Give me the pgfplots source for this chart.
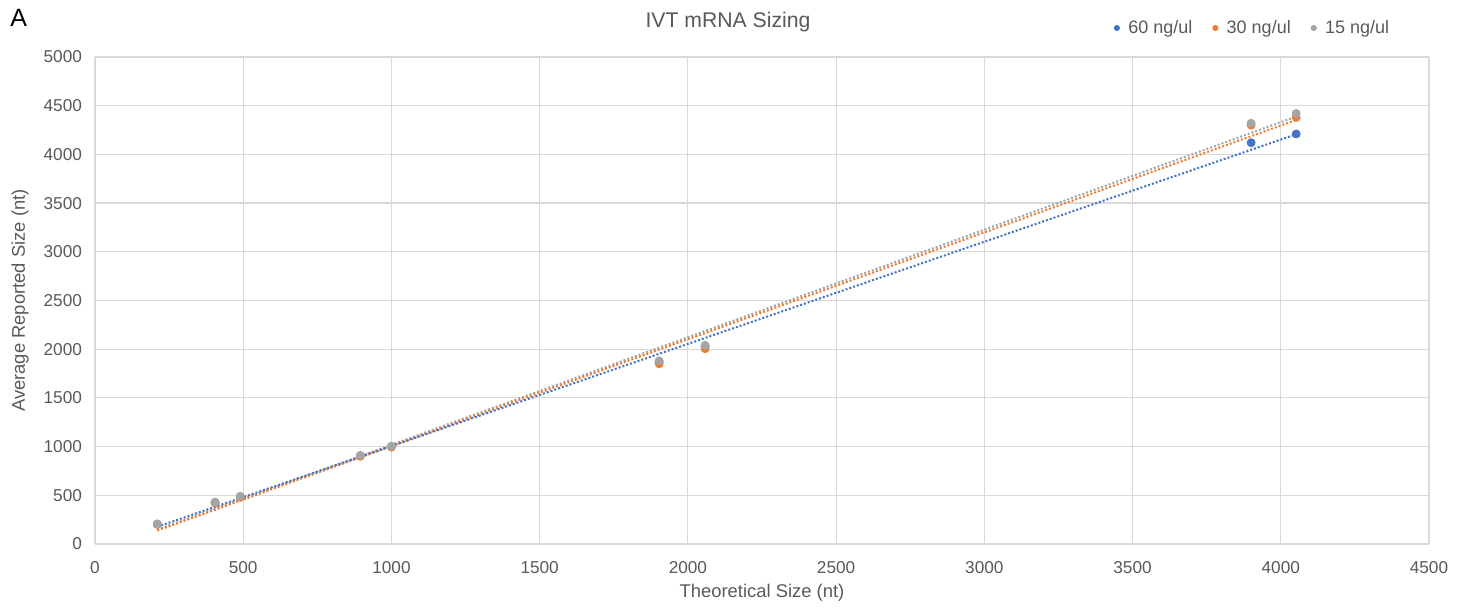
\documentclass[border=0pt]{standalone}
\usepackage{fontspec}
\setmainfont{Liberation Sans}
\usepackage{pgfplots}
\usepackage{pgfplotstable}
\pgfplotsset{compat=1.18}
\definecolor{sblue}{HTML}{4472C4}
\definecolor{sorange}{HTML}{ED7D31}
\definecolor{sgray}{HTML}{A5A5A5}
\definecolor{txt}{HTML}{595959}
\definecolor{gridc}{HTML}{D9D9D9}
\pgfplotstableread{
x s60 s30 s15
210 205 200 205
405 425 420 430
490 485 480 490
895 905 900 910
1000 1000 995 1005
1903 1870 1850 1880
2058 2030 2005 2040
3900 4120 4300 4320
4052 4210 4380 4420
}\data
\begin{document}
\begin{tikzpicture}
\path[use as bounding box] (-47.5pt,-32.5pt) rectangle (686.5pt,272pt);
\begin{axis}[
  at={(0pt,0pt)}, anchor=south west,
  scale only axis, width=667pt, height=243.5pt,
  xmin=0, xmax=4500, ymin=0, ymax=5000,
  xtick={0,500,...,4500}, ytick={0,500,...,5000},
  axis line style={draw=none},
  major tick length=0pt,
  grid=major, major grid style={gridc, line width=0.6pt},
  tick label style={font=\fontsize{8.6}{10}\selectfont, text=txt},
  /pgf/number format/assume math mode=true,
  /pgf/number format/set thousands separator={},
  xticklabel style={yshift=-5pt},
  yticklabel style={xshift=-3pt},
  xlabel={Theoretical Size (nt)},
  label style={font=\fontsize{9.2}{10}\selectfont, text=txt},
  xlabel style={at={(axis description cs:0.5,0)}, anchor=center, yshift=-24.5pt},
  legend style={at={(0.978,1.0595)}, anchor=east, draw=none, fill=none,
    legend columns=-1, font=\fontsize{9}{10}\selectfont, text=txt,
    /tikz/every even column/.append style={column sep=8pt},
    legend cell align=left},
  legend image code/.code={\fill[#1] (0pt,0pt) circle (1.3pt); \path (3.5pt,0pt);},
  clip=false,
]
\addplot[sblue, only marks, mark=*, mark size=2pt] table[x=x, y=s60] {\data};
\addlegendentry{60 ng/ul}
\addplot[sorange, only marks, mark=*, mark size=2pt] table[x=x, y=s30] {\data};
\addlegendentry{30 ng/ul}
\addplot[sgray, only marks, mark=*, mark size=2pt] table[x=x, y=s15] {\data};
\addlegendentry{15 ng/ul}
\addplot[sgray, line width=1pt, dash pattern=on 1pt off 1pt, forget plot] table[x=x, y={create col/linear regression={y=s15}}] {\data};
\addplot[sorange, line width=1pt, dash pattern=on 1pt off 1pt, forget plot] table[x=x, y={create col/linear regression={y=s30}}] {\data};
\addplot[sblue, line width=1pt, dash pattern=on 1pt off 1pt, forget plot] table[x=x, y={create col/linear regression={y=s60}}] {\data};
\node[font=\fontsize{10.6}{12}\selectfont, text=txt] at (rel axis cs:0.4745,1.0718) {IVT mRNA Sizing};
\node[font=\fontsize{9.2}{10}\selectfont, text=txt, rotate=90, anchor=center] at ([xshift=-37.5pt]rel axis cs:0,0.5) {Average Reported Size (nt)};
\node[font=\fontsize{12.5}{14}\selectfont, anchor=west, inner sep=0pt] at ([xshift=-42.5pt]rel axis cs:0,1.081) {A};
\end{axis}
\end{tikzpicture}
\end{document}
